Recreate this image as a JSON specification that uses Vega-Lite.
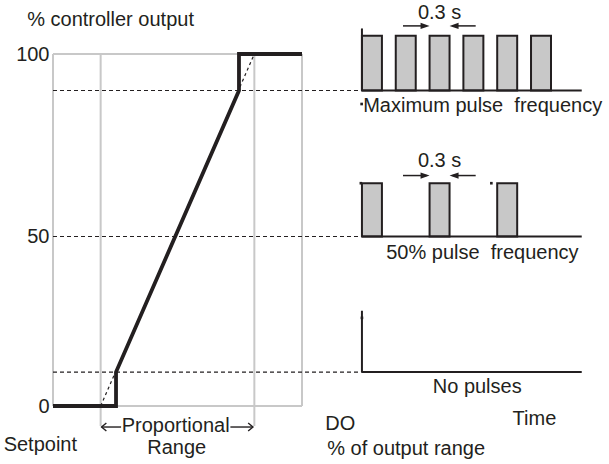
{
  "$schema": "https://vega.github.io/schema/vega-lite/v6.json",
  "width": 249,
  "height": 352,
  "autosize": {"type": "none"},
  "padding": {"left": 53, "top": 54, "right": 307, "bottom": 58},
  "background": "white",
  "config": {
    "view": {"stroke": null},
    "font": "Liberation Sans",
    "text": {"font": "Liberation Sans", "fontSize": 20, "color": "#231f20", "baseline": "alphabetic"}
  },
  "datasets": {
    "frame": [
      {"x": -31, "y": 0, "x2": -31, "y2": 100},
      {"x": 0, "y": -5.9, "x2": 0, "y2": 100},
      {"x": 100, "y": -5.9, "x2": 100, "y2": 100},
      {"x": 131, "y": 0, "x2": 131, "y2": 100},
      {"x": -31, "y": 0, "x2": 131, "y2": 0},
      {"x": -31, "y": 100, "x2": 131, "y2": 100}
    ],
    "levels": [
      {"x": -31, "y": 90, "x2": 170, "y2": 90},
      {"x": -31, "y": 50, "x2": 170, "y2": 50},
      {"x": -31, "y": 10, "x2": 170, "y2": 10}
    ],
    "ideal": [
      {"x": 0, "y": 0, "x2": 100, "y2": 100}
    ],
    "output": [
      {"i": 0, "x": -31, "y": 0},
      {"i": 1, "x": 10, "y": 0},
      {"i": 2, "x": 10, "y": 10},
      {"i": 3, "x": 90, "y": 90},
      {"i": 4, "x": 90, "y": 100},
      {"i": 5, "x": 131, "y": 100}
    ],
    "pulses": [
      {"x": 170, "x2": 183, "y": 90, "y2": 105},
      {"x": 192, "x2": 205, "y": 90, "y2": 105},
      {"x": 214, "x2": 227, "y": 90, "y2": 105},
      {"x": 236, "x2": 249, "y": 90, "y2": 105},
      {"x": 258, "x2": 271, "y": 90, "y2": 105},
      {"x": 280, "x2": 293, "y": 90, "y2": 105},
      {"x": 170, "x2": 183, "y": 50, "y2": 64.6},
      {"x": 214, "x2": 227, "y": 50, "y2": 64.6},
      {"x": 258, "x2": 271, "y": 50, "y2": 64.6}
    ],
    "traces": [
      {"x": 170, "y": 90, "x2": 313, "y2": 90},
      {"x": 170, "y": 90, "x2": 170, "y2": 107},
      {"x": 170, "y": 50, "x2": 313, "y2": 50},
      {"x": 170, "y": 10, "x2": 313, "y2": 10},
      {"x": 170, "y": 10, "x2": 170, "y2": 28.1}
    ],
    "shafts": [
      {"x": 196.7, "y": 107.7, "x2": 212, "y2": 107.7},
      {"x": 244, "y": 107.7, "x2": 229, "y2": 107.7},
      {"x": 196.7, "y": 66.7, "x2": 212, "y2": 66.7},
      {"x": 244, "y": 66.7, "x2": 229, "y2": 66.7}
    ],
    "headsRight": [
      {"x": 214, "y": 107.7},
      {"x": 214, "y": 66.7}
    ],
    "headsLeft": [
      {"x": 227, "y": 107.7},
      {"x": 227, "y": 66.7}
    ],
    "rangeShafts": [
      {"x": 0.6, "y": -6.2, "x2": 13.3, "y2": -6.2},
      {"x": 84.4, "y": -6.2, "x2": 99.1, "y2": -6.2}
    ],
    "rangeTipLeft": [
      {"x": 0.6, "y": -6.2}
    ],
    "rangeTipRight": [
      {"x": 99.1, "y": -6.2}
    ],
    "dots": [
      {"x": 169.8, "y": 86.3},
      {"x": 254.2, "y": 64.6},
      {"x": 169.3, "y": 64.6},
      {"x": 170, "y": 26}
    ],
    "labelsLeft": [
      {"label": "% controller output", "x": -47.8, "y": 107.7},
      {"label": "Setpoint", "x": -63.1, "y": -13.4},
      {"label": "DO", "x": 146.2, "y": -7.1},
      {"label": "% of output range", "x": 147.4, "y": -14.45},
      {"label": "Maximum pulse\u00a0 frequency", "x": 170.8, "y": 84.2},
      {"label": "50% pulse\u00a0 frequency", "x": 185.8, "y": 43.3}
    ],
    "labelsCenter": [
      {"label": "Proportional", "x": 48.8, "y": -7.7},
      {"label": "Range", "x": 49.5, "y": -14.1},
      {"label": "0.3 s", "x": 220.5, "y": 109.6},
      {"label": "0.3 s", "x": 220.5, "y": 69.1},
      {"label": "No pulses", "x": 245, "y": 3.75},
      {"label": "Time", "x": 282.2, "y": -5.6}
    ]
  },
  "encoding": {
    "x": {
      "field": "x",
      "type": "quantitative",
      "scale": {"domain": [-31, 131], "nice": false, "zero": false},
      "axis": null
    },
    "y": {
      "field": "y",
      "type": "quantitative",
      "scale": {"domain": [0, 50, 100], "range": [352, 182.5, 0], "nice": false, "zero": false},
      "axis": {
        "values": [0, 50, 100],
        "domain": false,
        "ticks": false,
        "grid": false,
        "title": null,
        "labelFont": "Liberation Sans",
        "labelFontSize": 20,
        "labelColor": "#231f20",
        "labelPadding": 4
      }
    }
  },
  "layer": [
    {
      "data": {"name": "frame"},
      "mark": {"type": "rule", "color": "#c8c8c8", "strokeWidth": 2},
      "encoding": {"x2": {"field": "x2"}, "y2": {"field": "y2"}}
    },
    {
      "data": {"name": "levels"},
      "mark": {"type": "rule", "color": "#231f20", "strokeWidth": 1.2, "strokeDash": [4, 3]},
      "encoding": {"x2": {"field": "x2"}, "y2": {"field": "y2"}}
    },
    {
      "data": {"name": "ideal"},
      "mark": {"type": "rule", "color": "#231f20", "strokeWidth": 1.2, "strokeDash": [3, 3]},
      "encoding": {"x2": {"field": "x2"}, "y2": {"field": "y2"}}
    },
    {
      "data": {"name": "output"},
      "mark": {"type": "line", "color": "#231f20", "strokeWidth": 3.8, "strokeJoin": "miter", "strokeCap": "butt"},
      "encoding": {"order": {"field": "i", "type": "quantitative"}}
    },
    {
      "data": {"name": "pulses"},
      "mark": {"type": "rect", "fill": "#c8c8c8", "stroke": "#231f20", "strokeWidth": 2},
      "encoding": {"x2": {"field": "x2"}, "y2": {"field": "y2"}}
    },
    {
      "data": {"name": "traces"},
      "mark": {"type": "rule", "color": "#231f20", "strokeWidth": 2},
      "encoding": {"x2": {"field": "x2"}, "y2": {"field": "y2"}}
    },
    {
      "data": {"name": "shafts"},
      "mark": {"type": "rule", "color": "#231f20", "strokeWidth": 1.5},
      "encoding": {"x2": {"field": "x2"}, "y2": {"field": "y2"}}
    },
    {
      "data": {"name": "headsRight"},
      "mark": {"type": "point", "shape": "M0,0L-2,-0.7L-2,0.7Z", "size": 81, "filled": true, "color": "#231f20", "opacity": 1},
      "encoding": {}
    },
    {
      "data": {"name": "headsLeft"},
      "mark": {"type": "point", "shape": "M0,0L2,-0.7L2,0.7Z", "size": 81, "filled": true, "color": "#231f20", "opacity": 1},
      "encoding": {}
    },
    {
      "data": {"name": "rangeShafts"},
      "mark": {"type": "rule", "color": "#231f20", "strokeWidth": 1.4},
      "encoding": {"x2": {"field": "x2"}, "y2": {"field": "y2"}}
    },
    {
      "data": {"name": "rangeTipLeft"},
      "mark": {"type": "point", "shape": "M1.2,-1L0,0L1.2,1", "size": 64, "filled": false, "color": "#231f20", "strokeWidth": 1.4, "opacity": 1},
      "encoding": {}
    },
    {
      "data": {"name": "rangeTipRight"},
      "mark": {"type": "point", "shape": "M-1.2,-1L0,0L-1.2,1", "size": 64, "filled": false, "color": "#231f20", "strokeWidth": 1.4, "opacity": 1},
      "encoding": {}
    },
    {
      "data": {"name": "dots"},
      "mark": {"type": "square", "size": 7, "color": "#231f20", "opacity": 1},
      "encoding": {}
    },
    {
      "data": {"name": "labelsLeft"},
      "mark": {"type": "text", "align": "left"},
      "encoding": {"text": {"field": "label"}}
    },
    {
      "data": {"name": "labelsCenter"},
      "mark": {"type": "text", "align": "center"},
      "encoding": {"text": {"field": "label"}}
    }
  ]
}
